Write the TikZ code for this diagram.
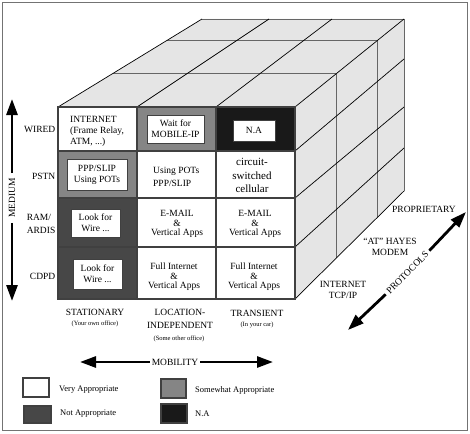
\documentclass[tikz,border=0pt]{standalone}
\usepackage{fontspec}
\setmainfont{Liberation Serif}
\usetikzlibrary{arrows.meta,calc}
\definecolor{facegray}{gray}{0.9}
\definecolor{linegray}{gray}{0.4}
\definecolor{edgegray}{gray}{0.25}
\definecolor{framegray}{gray}{0.45}
\definecolor{somegray}{gray}{0.52}
\definecolor{notgray}{gray}{0.28}
\definecolor{nablack}{gray}{0.1}

\begin{document}
\begin{tikzpicture}[x=1pt,y=-1pt,
    every node/.style={font=\fontsize{9.5}{11}\selectfont,inner sep=1pt},
    cubeline/.style={draw=black,line width=0.7pt},
    gridline/.style={draw=linegray,line width=0.8pt},
    cellgrid/.style={draw=edgegray,line width=1.1pt},
    innerbox/.style={draw=edgegray,fill=white,line width=1pt,align=center,inner sep=0pt},
    bigarrow/.style={-{Triangle[length=16pt,width=11pt]},line width=2.8pt},
    small/.style={font=\fontsize{6.5}{8}\selectfont},
    legtext/.style={font=\fontsize{8.5}{10}\selectfont,anchor=west},
    swatch/.style={draw=edgegray,line width=1.2pt,inner sep=0pt}]
  \useasboundingbox (0,0) rectangle (470,433);
  \draw[framegray,line width=1.5pt] (2.5,2.5) rectangle (467.5,430.5);

  % corners of the cube
  \coordinate (fa) at (58,107);
  \coordinate (fb) at (137,107);
  \coordinate (fc) at (216,107);
  \coordinate (fd) at (295,107);
  \coordinate (fe) at (295,299);
  \coordinate (ba) at (202,19);
  \coordinate (bb) at (269,19);
  \coordinate (bc) at (332,19);
  \coordinate (bd) at (404,19);
  \coordinate (be) at (404,191);

  \fill[facegray] (fa) -- (ba) -- (bd) -- (fd) -- cycle;
  \fill[facegray] (fd) -- (bd) -- (be) -- (fe) -- cycle;
  \foreach \t in {0.383,0.76}{
    \draw[gridline] ($(fa)!\t!(ba)$) -- ($(fd)!\t!(bd)$);
    \draw[gridline] ($(fd)!\t!(bd)$) -- ($(fe)!\t!(be)$);
  }
  \draw[gridline] (ba) -- (bd) -- (be);
  \foreach \f/\b in {fa/ba,fb/bb,fc/bc,fd/bd,fe/be}
    \draw[cubeline] (\f) -- (\b);
  \foreach \yf/\yb in {151/59,198/107,247/148}
    \draw[cubeline] (295,\yf) -- (404,\yb);

  % front face
  \foreach \xa/\xb/\ya/\yb/\col in {58/137/107/151/white,137/216/107/151/somegray,216/295/107/151/nablack,
      58/137/151/198/somegray,137/216/151/198/white,216/295/151/198/white,
      58/137/198/247/notgray,137/216/198/247/white,216/295/198/247/white,
      58/137/247/299/notgray,137/216/247/299/white,216/295/247/299/white}
    \fill[\col] (\xa,\ya) rectangle (\xb,\yb);
  \draw[cellgrid] (58,107) rectangle (295,299);
  \draw[cellgrid] (137,107) -- (137,299) (216,107) -- (216,299);
  \draw[cellgrid] (58,151) -- (295,151) (58,198) -- (295,198) (58,247) -- (295,247);

  \node[anchor=west,align=left] (inet) at (69,131) {INTERNET\\(Frame Relay,\\ATM, ...)};
  \node[innerbox,minimum width=57pt,minimum height=28pt] (mobip) at (175.5,129) {Wait for\\MOBILE-IP};
  \node[innerbox,minimum width=42pt,minimum height=21pt] (na) at (254,130.5) {N.A};
  \node[innerbox,minimum width=60pt,minimum height=31pt] (ppp) at (97,174.5) {PPP/SLIP\\Using POTs};
  \node[anchor=west,align=left,font=\fontsize{9.5}{13}\selectfont] (pots) at (152,177) {Using POTs\\PPP/SLIP};
  \node[align=center,font=\fontsize{11}{13.5}\selectfont] (cell) at (252,175.5) {circuit-\\switched\\cellular};
  \node[innerbox,minimum width=49pt,minimum height=28pt] (wirea) at (95.5,223) {Look for\\Wire ...};
  \node[align=center,font=\fontsize{9.5}{9.5}\selectfont] (maila) at (177,224) {E-MAIL\\\&\\Vertical Apps};
  \node[align=center,font=\fontsize{9.5}{9.5}\selectfont] (mailb) at (255,224) {E-MAIL\\\&\\Vertical Apps};
  \node[innerbox,minimum width=49pt,minimum height=30pt] (wireb) at (97.5,274) {Look for\\Wire ...};
  \node[align=center,font=\fontsize{9.5}{9.5}\selectfont] (fulla) at (174,277) {Full Internet\\\&\\Vertical Apps};
  \node[align=center,font=\fontsize{9.5}{9.5}\selectfont] (fullb) at (254,277) {Full Internet\\\&\\Vertical Apps};

  % medium
  \node[anchor=east] (wired) at (56.5,129) {WIRED};
  \node[anchor=east] (pstn) at (56.5,176) {PSTN};
  \node[anchor=east,align=left,font=\fontsize{9.5}{13}\selectfont] (ram) at (56.5,224) {RAM/\\ARDIS};
  \node[anchor=east] (cdpd) at (56.5,276) {CDPD};
  \node[rotate=90,inner sep=5pt] (medium) at (12,198) {MEDIUM};
  \coordinate (medtop) at (12,99);
  \coordinate (medbot) at (12,301);
  \draw[bigarrow] (medium.east) -- (medtop);
  \draw[bigarrow] (medium.west) -- (medbot);

  % mobility
  \node (stat) at (95,312) {STATIONARY};
  \node[small] (statsub) at (95,323.5) {(Your own office)};
  \node[align=center,font=\fontsize{9.5}{13.5}\selectfont] (loc) at (180,319) {LOCATION-\\INDEPENDENT};
  \node[small] (locsub) at (179,338.5) {(Some other office)};
  \node (trans) at (257,313) {TRANSIENT};
  \node[small] (transsub) at (257,325) {(In your car)};
  \node[inner sep=2pt] (mobility) at (175,362) {MOBILITY};
  \coordinate (mobleft) at (80,362);
  \coordinate (mobright) at (273,362);
  \draw[bigarrow] (mobility.west) -- (mobleft);
  \draw[bigarrow] (mobility.east) -- (mobright);

  % protocols
  \node (prop) at (424,209) {PROPRIETARY};
  \node[align=center] (hayes) at (390,247) {``AT'' HAYES\\MODEM};
  \node[align=center] (tcpip) at (343,290) {INTERNET\\TCP/IP};
  \node[rotate=45,inner sep=3pt] (protocols) at (407.5,272.5) {PROTOCOLS};
  \coordinate (protup) at (466,212);
  \coordinate (protdown) at (348,330);
  \draw[bigarrow] (protocols.east) -- (protup);
  \draw[bigarrow] (protocols.west) -- (protdown);

  % legend
  \node[swatch,fill=white,minimum width=26pt,minimum height=19pt] (legvery) at (36,387.5) {};
  \node[legtext] (legverytxt) at (58,389.5) {Very Appropriate};
  \node[swatch,fill=somegray,minimum width=25pt,minimum height=19pt] (legsome) at (173.5,388.5) {};
  \node[legtext] (legsometxt) at (194,390) {Somewhat Appropriate};
  \node[swatch,fill=notgray,minimum width=27pt,minimum height=17pt] (legnot) at (37.5,414.5) {};
  \node[legtext] (legnottxt) at (59,414) {Not Appropriate};
  \node[swatch,fill=nablack,minimum width=26pt,minimum height=19pt] (legna) at (174,413.5) {};
  \node[legtext] (legnatxt) at (194,413.5) {N.A};
\end{tikzpicture}
\end{document}
